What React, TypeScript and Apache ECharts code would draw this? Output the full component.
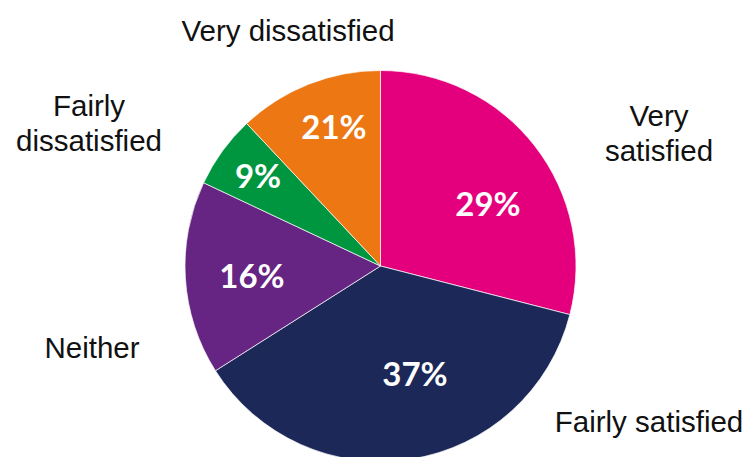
import React, { useEffect, useRef } from "react";
import * as echarts from "echarts";

const categories = ["Very satisfied", "Fairly satisfied", "Neither", "Fairly dissatisfied", "Very dissatisfied"];
// slice sizes as drawn in the picture (angles), and the printed percentages
const sliceValues = [29, 37, 16, 6, 12];
const percentLabels = ["29%", "37%", "16%", "9%", "21%"];
const nameLabels = ["Very\nsatisfied", "Fairly satisfied", "Neither", "Fairly\ndissatisfied", "Very dissatisfied"];

const colors = ["#E4007C", "#1B2858", "#662483", "#00963F", "#EC7713"];
const innerLabelPos = [[488, 203], [415, 373], [252, 275], [258, 175], [334, 126]];
const outerLabelPos = [[659, 133], [649, 421], [92, 347], [89, 123], [288, 30]];

export default function App() {
  const ref = useRef<HTMLDivElement>(null);
  useEffect(() => {
    document.body.style.margin = "0";
    const chart = echarts.init(ref.current!, null, { renderer: "svg" });
    const data = categories.map((name, i) => ({
      name,
      value: sliceValues[i],
      itemStyle: { color: colors[i] },
    }));
    chart.setOption({
      animation: false,
      backgroundColor: "#ffffff",
      series: [
        {
          type: "pie",
          center: [380.5, 266],
          radius: 195.5,
          startAngle: 90,
          clockwise: true,
          avoidLabelOverlap: false,
          silent: true,
          data,
          itemStyle: { borderColor: "#ffffff", borderWidth: 0.7 },
          label: {
            show: true,
            position: "inside",
            formatter: (p: any) => percentLabels[p.dataIndex],
            color: "#ffffff",
            fontFamily: "Lato",
            fontWeight: "bold",
            fontSize: 33,
          },
          labelLine: { show: false },
          labelLayout: (p: any) => ({
            x: innerLabelPos[p.dataIndex][0],
            y: innerLabelPos[p.dataIndex][1],
            align: "center",
            verticalAlign: "middle",
          }),
        },
        {
          type: "pie",
          center: [380.5, 266],
          radius: 195.5,
          startAngle: 90,
          clockwise: true,
          avoidLabelOverlap: false,
          silent: true,
          data: categories.map((name, i) => ({ name, value: sliceValues[i] })),
          itemStyle: { color: "rgba(0,0,0,0)", borderWidth: 0 },
          label: {
            show: true,
            position: "outside",
            formatter: (p: any) => nameLabels[p.dataIndex],
            color: "#111111",
            fontFamily: "Liberation Sans",
            fontSize: 29.5,
            lineHeight: 35,
            align: "center",
          },
          labelLine: { show: false },
          labelLayout: (p: any) => ({
            x: outerLabelPos[p.dataIndex][0],
            y: outerLabelPos[p.dataIndex][1],
            align: "center",
            verticalAlign: "middle",
          }),
        },
      ],
    });
    return () => chart.dispose();
  }, []);
  return <div ref={ref} style={{ width: 745, height: 457 }} />;
}
